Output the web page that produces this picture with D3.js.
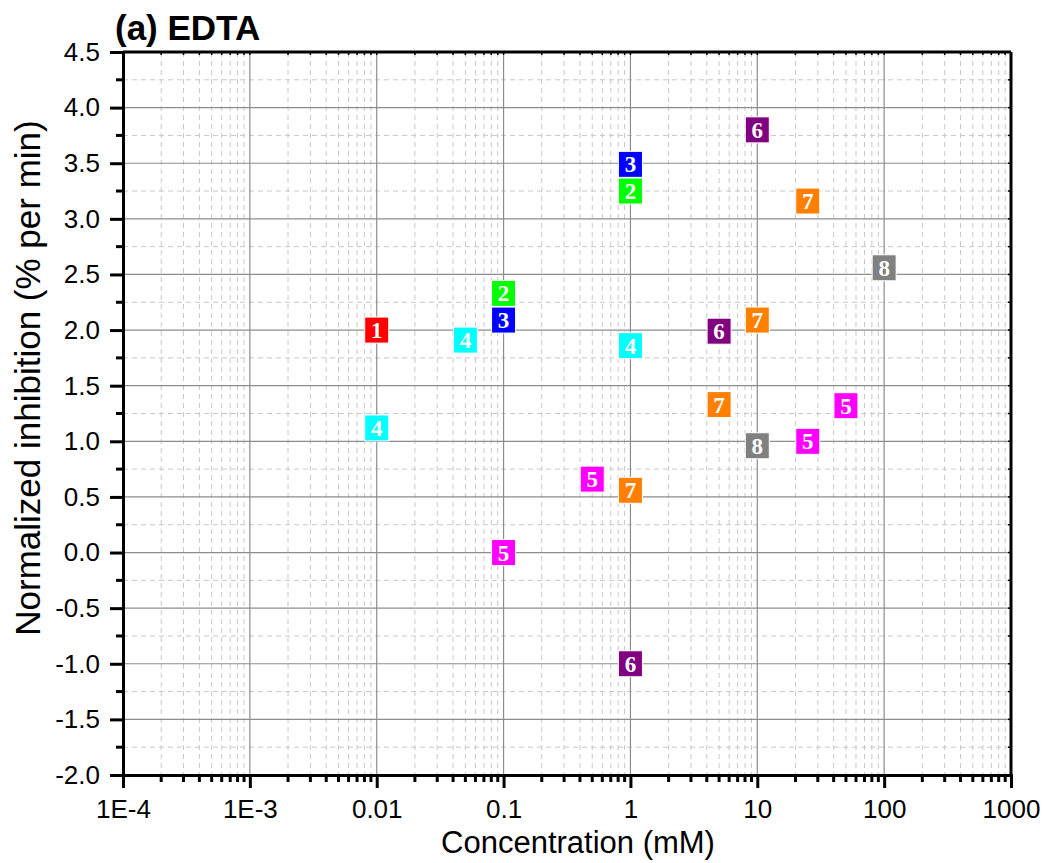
<!DOCTYPE html>
<html>
<head>
<meta charset="utf-8">
<script src="https://cdn.jsdelivr.net/npm/d3@7"></script>
<style>
  body { margin: 0; background: #fff; }
  text { font-family: "Liberation Sans", Arial, sans-serif; }
  .marker-label { font-family: "Liberation Serif", "DejaVu Serif", serif; font-weight: bold; }
</style>
</head>
<body>
<div id="chart"></div>
<script>
// series: label number, colour, points as [concentration mM, inhibition]
const seriesIds = ["1", "2", "3", "4", "5", "6", "7", "8"];
const seriesColors = ["#ff0000", "#00ff00", "#0000ff", "#00ffff", "#ff00ff", "#800080", "#ff8000", "#808080"];
const series1 = [[0.01, 2.0]];
const series2 = [[0.1, 2.33], [1, 3.25]];
const series3 = [[0.1, 2.09], [1, 3.49]];
const series4 = [[0.01, 1.12], [0.05, 1.91], [1, 1.86]];
const series5 = [[0.1, 0.0], [0.5, 0.66], [25, 1.0], [50, 1.32]];
const series6 = [[10, 3.8], [5, 1.99], [1, -1.0]];
const series7 = [[25, 3.16], [10, 2.09], [5, 1.33], [1, 0.56]];
const series8 = [[100, 2.56], [10, 0.96]];
const allSeries = [series1, series2, series3, series4, series5, series6, series7, series8];

const xTickValues = [1e-4, 1e-3, 0.01, 0.1, 1, 10, 100, 1000];
const xTickLabels = ["1E-4", "1E-3", "0.01", "0.1", "1", "10", "100", "1000"];
const yMin = -2.0, yMax = 4.5;

const W = 1048, H = 863;
const margin = { top: 52, right: 37, bottom: 88, left: 123 };
const width = W - margin.left - margin.right;
const height = H - margin.top - margin.bottom;

const svg = d3.select("#chart").append("svg")
    .attr("width", W)
    .attr("height", H);

const g = svg.append("g")
    .attr("transform", "translate(" + margin.left + "," + margin.top + ")");

const x = d3.scaleLog().domain([1e-4, 1000]).range([0, width]);
const y = d3.scaleLinear().domain([yMin, yMax]).range([height, 0]);

// minor/major tick positions
const xMinor = [];
xTickValues.slice(0, -1).forEach(v => {
    for (let k = 2; k <= 9; k++) xMinor.push(v * k);
});
const yMajor = d3.range(yMin, yMax + 0.001, 0.5);
const yMinor = d3.range(yMin + 0.25, yMax, 0.5);

// minor grid (dashed)
g.append("g").selectAll("line").data(xMinor).join("line")
    .attr("x1", d => x(d)).attr("x2", d => x(d))
    .attr("y1", 0).attr("y2", height)
    .attr("stroke", "#c8c8c8").attr("stroke-width", 1)
    .attr("stroke-dasharray", "5,4");
g.append("g").selectAll("line").data(yMinor).join("line")
    .attr("x1", 0).attr("x2", width)
    .attr("y1", d => y(d)).attr("y2", d => y(d))
    .attr("stroke", "#c8c8c8").attr("stroke-width", 1)
    .attr("stroke-dasharray", "5,4");

// major grid (solid)
g.append("g").selectAll("line").data(xTickValues.slice(1, -1)).join("line")
    .attr("x1", d => x(d)).attr("x2", d => x(d))
    .attr("y1", 0).attr("y2", height)
    .attr("stroke", "#8c8c8c").attr("stroke-width", 1.2);
g.append("g").selectAll("line").data(yMajor.slice(1, -1)).join("line")
    .attr("x1", 0).attr("x2", width)
    .attr("y1", d => y(d)).attr("y2", d => y(d))
    .attr("stroke", "#8c8c8c").attr("stroke-width", 1.2);

// frame: top and right with small inward ticks
g.append("g").selectAll("line").data(xMinor.concat(xTickValues)).join("line")
    .attr("x1", d => x(d)).attr("x2", d => x(d))
    .attr("y1", 0).attr("y2", 3)
    .attr("stroke", "#000").attr("stroke-width", 1.5);
g.append("g").selectAll("line").data(yMajor.concat(yMinor)).join("line")
    .attr("x1", width - 3).attr("x2", width)
    .attr("y1", d => y(d)).attr("y2", d => y(d))
    .attr("stroke", "#000").attr("stroke-width", 1.5);
g.append("line").attr("x1", 0).attr("x2", width).attr("y1", 0).attr("y2", 0)
    .attr("stroke", "#000").attr("stroke-width", 3);
g.append("line").attr("x1", width).attr("x2", width).attr("y1", 0).attr("y2", height)
    .attr("stroke", "#000").attr("stroke-width", 3);

// x axis
const xAxis = g.append("g")
    .attr("transform", "translate(0," + height + ")")
    .call(d3.axisBottom(x)
        .tickValues(xTickValues)
        .tickSize(13)
        .tickPadding(12)
        .tickFormat((d, i) => xTickLabels[i]));
xAxis.append("g").selectAll("line").data(xMinor).join("line")
    .attr("x1", d => x(d)).attr("x2", d => x(d))
    .attr("y1", 0).attr("y2", 7)
    .attr("stroke", "#000").attr("stroke-width", 3);

// y axis
const yAxis = g.append("g")
    .call(d3.axisLeft(y)
        .tickValues(yMajor)
        .tickSize(13)
        .tickPadding(10)
        .tickFormat(d => d3.format(".1f")(d).replace("\u2212", "-")));
yAxis.append("g").selectAll("line").data(yMinor).join("line")
    .attr("x1", -7).attr("x2", 0)
    .attr("y1", d => y(d)).attr("y2", d => y(d))
    .attr("stroke", "#000").attr("stroke-width", 3);

[xAxis, yAxis].forEach(a => {
    a.attr("font-size", null).attr("font-family", null);
    a.select(".domain").attr("stroke", "#000").attr("stroke-width", 3);
    a.selectAll(".tick line").attr("stroke", "#000").attr("stroke-width", 3);
    a.selectAll(".tick text")
        .attr("fill", "#000")
        .style("font-size", "26px");
});

// axis titles
svg.append("text")
    .attr("x", 578)
    .attr("y", 853)
    .attr("text-anchor", "middle")
    .style("font-size", "31px")
    .text("Concentration (mM)");

svg.append("text")
    .attr("transform", "translate(40,378) rotate(-90)")
    .attr("text-anchor", "middle")
    .style("font-size", "35px")
    .text("Normalized inhibition (% per min)");

// chart title
svg.append("text")
    .attr("x", 115)
    .attr("y", 40)
    .style("font-size", "35px")
    .style("font-weight", "bold")
    .text("(a) EDTA");

// markers
const pts = [];
allSeries.forEach((s, i) => s.forEach(p => pts.push({ id: seriesIds[i], color: seriesColors[i], cx: p[0], cy: p[1] })));

const mk = g.append("g").selectAll("g").data(pts).join("g")
    .attr("transform", d => "translate(" + x(d.cx) + "," + y(d.cy) + ")");
mk.append("rect")
    .attr("x", -12).attr("y", -13)
    .attr("width", 24).attr("height", 26)
    .attr("fill", d => d.color)
    .attr("stroke", "#fff").attr("stroke-width", 1);
mk.append("text")
    .attr("class", "marker-label")
    .attr("text-anchor", "middle")
    .attr("y", 8)
    .attr("fill", "#fff")
    .style("font-size", "23px")
    .text(d => d.id);
</script>
</body>
</html>
